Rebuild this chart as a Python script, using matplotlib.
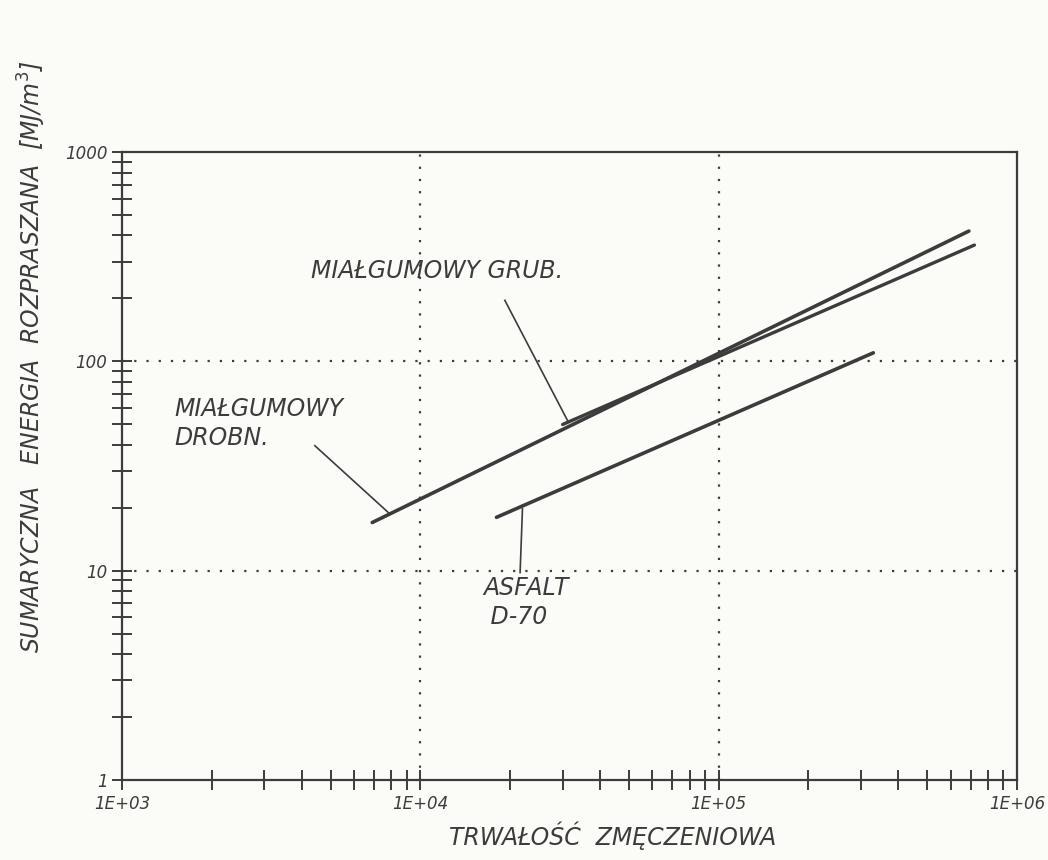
#!/usr/bin/env python3

import matplotlib
matplotlib.use('Agg')
import matplotlib.pyplot as plt
from matplotlib.ticker import LogLocator, NullFormatter, FixedLocator


# trwalosc zmeczeniowa [cykle] vs sumaryczna energia rozpraszana [MJ/m3]
DROBN_N = [6.9e3, 6.9e5]
DROBN_E = [17.0, 420.0]

GRUB_N = [3.0e4, 7.2e5]
GRUB_E = [50.0, 360.0]

ASFALT_N = [1.8e4, 3.3e5]
ASFALT_E = [18.0, 110.0]

XTICKS = [1e3, 1e4, 1e5, 1e6]
XLABELS = ['1E+03', '1E+04', '1E+05', '1E+06']
YTICKS = [1, 10, 100, 1000]
YLABELS = ['1', '10', '100', '1000']

INK = '#3c3c3c'


def main():
  plt.rcParams['font.family'] = ['DejaVu Sans']

  fig = plt.figure(figsize=(10.48, 8.6), dpi=100, facecolor='#fbfbf8')
  ax = fig.add_axes([0.1164, 0.093, 0.854, 0.730])
  ax.set_facecolor('#fbfbf8')

  ax.set_xscale('log')
  ax.set_yscale('log')
  ax.set_xlim(1e3, 1e6)
  ax.set_ylim(1, 1000)

  ax.plot(DROBN_N, DROBN_E, color=INK, lw=2.6, solid_capstyle='round')
  ax.plot(GRUB_N, GRUB_E, color=INK, lw=2.4, solid_capstyle='round')
  ax.plot(ASFALT_N, ASFALT_E, color=INK, lw=2.6, solid_capstyle='round')

  # dotted grid only at the inner decades
  for x in [1e4, 1e5]:
    ax.axvline(x, color=INK, lw=1.6, ls=(0, (1, 4.5)))
  for y in [10, 100]:
    ax.axhline(y, color=INK, lw=1.6, ls=(0, (1, 4.5)))

  ax.xaxis.set_major_locator(FixedLocator(XTICKS))
  ax.yaxis.set_major_locator(FixedLocator(YTICKS))
  ax.set_xticklabels(XLABELS)
  ax.set_yticklabels(YLABELS)
  ax.xaxis.set_minor_locator(LogLocator(base=10, subs=range(2, 10)))
  ax.yaxis.set_minor_locator(LogLocator(base=10, subs=range(2, 10)))
  ax.xaxis.set_minor_formatter(NullFormatter())
  ax.yaxis.set_minor_formatter(NullFormatter())

  ax.tick_params(which='both', direction='inout', color=INK, width=1.4,
                 labelcolor=INK, labelsize=12)
  ax.tick_params(which='major', length=14)
  ax.tick_params(which='minor', length=14)
  for lab in ax.get_xticklabels() + ax.get_yticklabels():
    lab.set_fontstyle('italic')

  for s in ax.spines.values():
    s.set_color(INK)
    s.set_linewidth(1.6)

  # curve annotations with leader lines
  txt = dict(color=INK, fontsize=17, fontstyle='italic', family='DejaVu Sans')
  ax.text(4.3e3, 250, 'MIAŁGUMOWY GRUB.', **txt)
  ax.plot([1.92e4, 3.12e4], [196, 52], color=INK, lw=1.2)

  ax.text(1.5e3, 40, 'MIAŁGUMOWY\nDROBN.', linespacing=1.25, **txt)
  ax.plot([4.43e3, 7.9e3], [39.6, 18.7], color=INK, lw=1.2)

  ax.text(1.62e4, 9.4, 'ASFALT\n D-70', linespacing=1.25, va='top', **txt)
  ax.plot([2.2e4, 2.16e4], [19.8, 9.8], color=INK, lw=1.2)

  fig.text(0.585, 0.012, 'TRWAŁOŚĆ  ZMĘCZENIOWA', ha='center', va='bottom',
           color=INK, fontsize=17, fontstyle='italic')
  fig.text(0.03, 0.585, 'SUMARYCZNA   ENERGIA  ROZPRASZANA  [MJ/m$^3$]',
           rotation=90, ha='center', va='center',
           color=INK, fontsize=17, fontstyle='italic')

  fig.savefig('out.png', dpi=100, facecolor=fig.get_facecolor())


if __name__ == '__main__':
  main()
